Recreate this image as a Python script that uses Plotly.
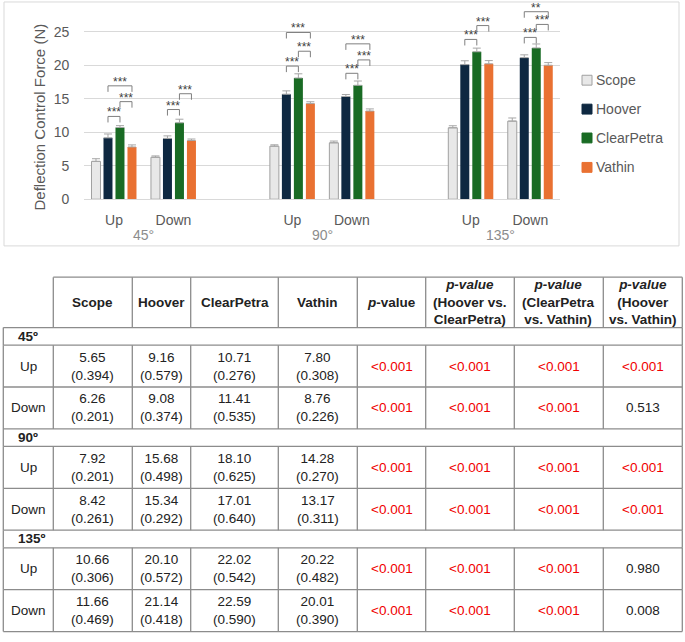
import plotly.graph_objects as go

# ---------------- data ----------------
angle_labels = ["45°", "90°", "135°"]
table_angle_labels = ["45º", "90º", "135º"]
direction_labels = ["Up", "Down", "Up", "Down", "Up", "Down"]
series_names = ["Scope", "Hoover", "ClearPetra", "Vathin"]

scope_mean = [5.65, 6.26, 7.92, 8.42, 10.66, 11.66]
hoover_mean = [9.16, 9.08, 15.68, 15.34, 20.10, 21.14]
clearpetra_mean = [10.71, 11.41, 18.10, 17.01, 22.02, 22.59]
vathin_mean = [7.80, 8.76, 14.28, 13.17, 20.22, 20.01]

scope_sd = [0.394, 0.201, 0.201, 0.261, 0.306, 0.469]
hoover_sd = [0.579, 0.374, 0.498, 0.292, 0.572, 0.418]
clearpetra_sd = [0.276, 0.535, 0.625, 0.640, 0.542, 0.590]
vathin_sd = [0.308, 0.226, 0.270, 0.311, 0.482, 0.390]

p_overall = ["<0.001"] * 6
p_hoover_clearpetra = ["<0.001"] * 6
p_clearpetra_vathin = ["<0.001"] * 6
p_hoover_vathin = ["<0.001", "0.513", "<0.001", "<0.001", "0.980", "0.008"]

# bracket foot heights (N), per row: (H-C, C-V, H-V)
bracket_hc = [11.46, 12.49, 18.98, 17.90, 22.96, 23.26]
bracket_cv = [13.67, 14.85, 21.20, 19.90, 25.03, 25.20]
bracket_hv = [16.03, None, 24.00, 22.30, None, 27.10]

# ---------------- styling ----------------
W, H = 685, 642
colors = ["#E8E8E8", "#0E2841", "#196B24", "#E97132"]
edges = ["#A0A0A0", "#0E2841", "#196B24", "#E97132"]
slots = [0, 1, 3, 4, 6, 7]
BARGAP = 0.193
pitch = (1 - BARGAP) / 4


def px(x):
    return x / W


def py(y):
    return 1 - y / H


Y0_PX, SCALE = 201.7, 6.78
y_top = (Y0_PX - 4) / SCALE

fig = go.Figure()
means = [scope_mean, hoover_mean, clearpetra_mean, vathin_mean]
sds = [scope_sd, hoover_sd, clearpetra_sd, vathin_sd]
for k in range(4):
    fig.add_trace(go.Bar(
        x=slots, y=means[k], name=series_names[k],
        marker=dict(color=colors[k], line=dict(color=edges[k], width=1 if k == 0 else 0)),
        error_y=dict(type="data", array=sds[k], arrayminus=[0] * len(sds[k]), symmetric=False,
                     color="#A6A6A6", thickness=1, width=4),
        showlegend=False,
    ))

shapes = []
annotations = []

# chart frame
shapes.append(dict(type="rect", xref="paper", yref="paper", x0=px(4), x1=px(679),
                   y0=py(249), y1=py(2), line=dict(color="#D9D9D9", width=1)))


def stars(p):
    if p.startswith("<"):
        return "***"
    v = float(p)
    if v < 0.01:
        return "**"
    if v < 0.05:
        return "*"
    return None


TICK = 0.9
pairs = [(1, 2, p_hoover_clearpetra, bracket_hc),
         (2, 3, p_clearpetra_vathin, bracket_cv),
         (1, 3, p_hoover_vathin, bracket_hv)]
for a, b, pv, base in pairs:
    for r in range(6):
        lab = stars(pv[r])
        if lab is None or base[r] is None:
            continue
        xa = slots[r] + (a - 1.5) * pitch
        xb = slots[r] + (b - 1.5) * pitch
        y0 = base[r]
        y1 = y0 + TICK
        for seg in [(xa, y0, xa, y1), (xa, y1, xb, y1), (xb, y1, xb, y0)]:
            shapes.append(dict(type="line", xref="x", yref="y", x0=seg[0], y0=seg[1],
                               x1=seg[2], y1=seg[3], line=dict(color="#7F7F7F", width=1)))
        annotations.append(dict(x=(xa + xb) / 2, y=y1, xref="x", yref="y", text=lab,
                                showarrow=False, xanchor="center", yanchor="bottom", yshift=-5,
                                font=dict(size=12, color="#404040")))

# angle group labels
for i, lab in enumerate(angle_labels):
    annotations.append(dict(x=(slots[2 * i] + slots[2 * i + 1]) / 2, y=py(238), xref="x", yref="paper",
                            text=lab, showarrow=False, xanchor="center", yanchor="middle",
                            font=dict(size=14, color="#8C8C8C")))

# y title
annotations.append(dict(x=px(40), y=py(119), xref="paper", yref="paper", text="Deflection Control Force (N)",
                        textangle=-90, showarrow=False, xanchor="center", yanchor="middle",
                        font=dict(size=15, color="#595959")))

# custom legend
leg_y = [81.2, 110.5, 139.7, 169.5]
for k in range(4):
    shapes.append(dict(type="rect", xref="paper", yref="paper", x0=px(582), x1=px(592),
                       y0=py(leg_y[k] + 5), y1=py(leg_y[k] - 5),
                       fillcolor=colors[k], line=dict(color=edges[k], width=1)))
    annotations.append(dict(x=px(594), y=py(leg_y[k]), xref="paper", yref="paper", text=series_names[k],
                            xanchor="left", yanchor="middle", showarrow=False,
                            font=dict(size=14, color="#595959")))

# ---------------- table ----------------
cols = [3.3, 53.3, 132.3, 190.7, 278.3, 357.3, 425.7, 514.3, 603.3, 682.3]
HDR_TOP, HDR_BOT = 280.7, 331.7
SEC_H, ROW_H = 17.8, 42.4
LC = "#8C8C8C"
LW = 1.3
TXT = "#222222"
RED = "#F00000"


def hline(y, x0, x1):
    shapes.append(dict(type="line", xref="paper", yref="paper", x0=px(x0), x1=px(x1), y0=py(y), y1=py(y),
                       line=dict(color=LC, width=LW)))


def vline(x, y0, y1):
    shapes.append(dict(type="line", xref="paper", yref="paper", x0=px(x), x1=px(x), y0=py(y0), y1=py(y1),
                       line=dict(color=LC, width=LW)))


def cell_text(text, c, yc, color=TXT, xpad=None):
    if xpad is None:
        x = (cols[c] + cols[c + 1]) / 2
        xanchor = "center"
    else:
        x = cols[c] + xpad
        xanchor = "left"
    annotations.append(dict(x=px(x), y=py(yc), xref="paper", yref="paper", text=text, showarrow=False,
                            xanchor=xanchor, yanchor="middle", align="center",
                            font=dict(size=13.5, color=color,
                                      family="Liberation Sans, Arial, sans-serif")))


headers = ["", "<b>Scope</b>", "<b>Hoover</b>", "<b>ClearPetra</b>", "<b>Vathin</b>",
           "<b><i>p</i>-value</b>",
           "<b><i>p-value</i><br>(Hoover vs.<br>ClearPetra)</b>",
           "<b><i>p-value</i><br>(ClearPetra<br>vs. Vathin)</b>",
           "<b><i>p-value</i><br>(Hoover<br>vs. Vathin)</b>"]
hline(HDR_TOP, cols[1], cols[-1])
for c in range(1, len(cols)):
    vline(cols[c], HDR_TOP, HDR_BOT)
for c in range(1, 9):
    cell_text(headers[c], c, (HDR_TOP + HDR_BOT) / 2)

y = HDR_BOT
hline(y, cols[0], cols[-1])
for g in range(3):
    # section row
    vline(cols[0], y, y + SEC_H)
    vline(cols[-1], y, y + SEC_H)
    cell_text("<b>" + table_angle_labels[g] + "</b>", 0, y + SEC_H / 2, xpad=13)
    y += SEC_H
    hline(y, cols[0], cols[-1])
    for d in range(2):
        r = 2 * g + d
        for c in range(len(cols)):
            vline(cols[c], y, y + ROW_H)
        yc = y + ROW_H / 2
        cell_text(direction_labels[r], 0, yc)
        for k in range(4):
            cell_text(f"{means[k][r]:.2f}<br>({sds[k][r]:.3f})", k + 1, yc)
        for j, pv in enumerate([p_overall, p_hoover_clearpetra, p_clearpetra_vathin, p_hoover_vathin]):
            cell_text(pv[r], 5 + j, yc, color=RED if pv[r].startswith("<") else TXT)
        y += ROW_H
        hline(y, cols[0], cols[-1])

fig.update_layout(
    width=W, height=H, margin=dict(l=0, r=0, t=0, b=0),
    paper_bgcolor="white", plot_bgcolor="white",
    font=dict(family="Liberation Sans, Arial, sans-serif", color="#595959"),
    barmode="group", bargap=BARGAP, bargroupgap=0.25,
    showlegend=False,
    xaxis=dict(domain=[px(84.25), px(560)], range=[-0.5, 7.5], tickvals=slots, ticktext=direction_labels,
               showgrid=False, zeroline=False, showline=True, linecolor="#D9D9D9", ticks="",
               ticklabelstandoff=8, tickfont=dict(size=14, color="#595959")),
    yaxis=dict(domain=[py(Y0_PX), py(4)], range=[0, y_top], tick0=0, dtick=5,
               showgrid=True, gridcolor="#D9D9D9", gridwidth=1, zeroline=False, showline=False,
               ticks="", ticklabelstandoff=14, tickfont=dict(size=14, color="#595959")),
    shapes=shapes, annotations=annotations,
)

fig.write_html("out.html")
